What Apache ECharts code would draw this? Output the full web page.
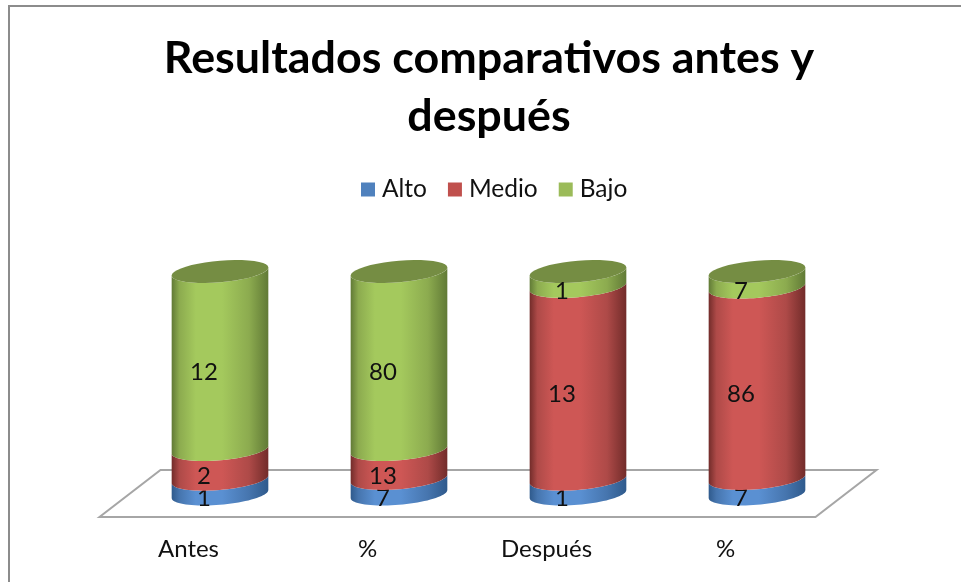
<!DOCTYPE html>
<html>
<head>
	<meta charset="UTF-8">
	<title>Resultados comparativos</title>
	<script src="https://cdn.jsdelivr.net/npm/echarts@6/dist/echarts.min.js"></script>
	<style>
		html, body { margin: 0; padding: 0; background: #fff; }
		#echart { width: 961px; height: 582px; }
	</style>
</head>
<body>
	<div id="echart"></div>
	<script>
		var categories = ["Antes", "%", "Después", "%"];
		var seriesNames = ["Alto", "Medio", "Bajo"];
		var alto = [1, 7, 1, 7];
		var medio = [2, 13, 13, 86];
		var bajo = [12, 80, 1, 7];

		var fontName = "Lato";
		var legendColors = ["#4F81BD", "#C0504D", "#9BBB59"];
		// edge, mid, light colors of the cylinder side
		var sideColors = [
			["#2F5A8C", "#4675AE", "#5A90D2"],
			["#722C2A", "#AE4A48", "#CE5755"],
			["#617A36", "#8CAB4F", "#A4C95D"]
		];
		var capColor = "#758D43";

		var gapRatio = 0.54; // cylinder width / category width
		var tilt = 4;        // left edge of the ellipse sits lower than the right
		var radiusY = 10.8;

		// 100% stacked: every column is normalised to its own total
		function stackData(idx) {
			var all = [alto, medio, bajo];
			return categories.map(function(c, i) {
				var total = alto[i] + medio[i] + bajo[i];
				var start = 0;
				for (var s = 0; s < idx; s++) {
					start += all[s][i];
				}
				return [i, start / total * 100, (start + all[idx][i]) / total * 100, all[idx][i]];
			});
		}

		function arc(cx, cy, a, from, to) {
			var pts = [];
			for (var k = 0; k <= 40; k++) {
				var t = from + (to - from) * k / 40;
				pts.push([cx + a * Math.cos(t), cy - tilt * Math.cos(t) + radiusY * Math.sin(t)]);
			}
			return pts;
		}

		function renderCylinder(seriesIndex) {
			return function(params, api) {
				var bottom = api.coord([api.value(0), api.value(1)]);
				var top = api.coord([api.value(0), api.value(2)]);
				var a = api.size([1, 0])[0] * gapRatio / 2;
				var cx = bottom[0];
				var c = sideColors[seriesIndex];
				var side = arc(cx, bottom[1], a, 0, Math.PI).concat(arc(cx, top[1], a, Math.PI, 0));
				var children = [{
					type: "polygon",
					shape: { points: side },
					style: {
						fill: {
							type: "linear", x: 0, y: 0, x2: 1, y2: 0,
							colorStops: [
								{ offset: 0, color: c[0] },
								{ offset: 0.08, color: c[1] },
								{ offset: 0.25, color: c[2] },
								{ offset: 0.52, color: c[2] },
								{ offset: 0.8, color: c[1] },
								{ offset: 1, color: c[0] }
							]
						}
					}
				}];
				if (seriesIndex == 2) {
					children.push({
						type: "polygon",
						shape: { points: arc(cx, top[1], a, 0, Math.PI * 2) },
						style: { fill: capColor }
					});
				}
				children.push({
					type: "text",
					z2: 10,
					style: {
						text: String(api.value(3)),
						x: cx - 16,
						y: (bottom[1] + top[1]) / 2 + 12,
						align: "center",
						verticalAlign: "middle",
						font: "24px " + fontName,
						fill: "#111"
					}
				});
				return { type: "group", children: children };
			};
		}

		function renderFloor(params) {
			var g = params.coordSys;
			var yBack = g.y + g.height - 24;
			var yFront = g.y + g.height + 23;
			return {
				type: "polygon",
				shape: {
					points: [
						[g.x - 31, yFront],
						[g.x + g.width - 31, yFront],
						[g.x + g.width + 30, yBack],
						[g.x + 30, yBack]
					]
				},
				style: { fill: "#fff", stroke: "#A6A6A6", lineWidth: 2 }
			};
		}

		var myChart = echarts.init(document.getElementById("echart"));
		var series = [{
			type: "custom",
			silent: true,
			renderItem: renderFloor,
			data: [[0, 0]],
			encode: { x: 0, y: 1 },
			z: 1
		}];
		seriesNames.forEach(function(name, idx) {
			series.push({
				name: name,
				type: "custom",
				renderItem: renderCylinder(idx),
				data: stackData(idx),
				encode: { x: 0, y: [1, 2] },
				itemStyle: { color: legendColors[idx] },
				z: 2 + idx
			});
		});

		myChart.setOption({
			animation: false,
			backgroundColor: "#fff",
			title: {
				text: "Resultados comparativos antes y\ndespués",
				left: 484,
				top: 25,
				textAlign: "center",
				textStyle: {
					fontFamily: fontName,
					fontWeight: "bold",
					fontSize: 44.8,
					lineHeight: 58,
					color: "#000"
				}
			},
			legend: {
				data: seriesNames,
				top: 172,
				left: 356,
				icon: "rect",
				itemWidth: 14,
				itemHeight: 14,
				itemGap: 21,
				textStyle: { fontFamily: fontName, fontSize: 24.5, color: "#111", padding: [0, 0, 0, 2] }
			},
			grid: { left: 130.5, top: 271.5, width: 716, height: 222.5 },
			xAxis: {
				type: "category",
				data: categories,
				axisLine: { show: false },
				axisTick: { show: false },
				axisLabel: {
					margin: 43,
					interval: 0,
					fontFamily: fontName,
					fontSize: 24,
					color: "#111",
					padding: [0, 63, 0, 0]
				}
			},
			yAxis: { type: "value", min: 0, max: 100, show: false },
			graphic: [{
				type: "polyline",
				shape: { points: [[9, 582], [9, 6], [961, 6]] },
				style: { fill: null, stroke: "#8C8C8C", lineWidth: 2 },
				silent: true
			}],
			series: series
		});
	</script>
</body>
</html>
